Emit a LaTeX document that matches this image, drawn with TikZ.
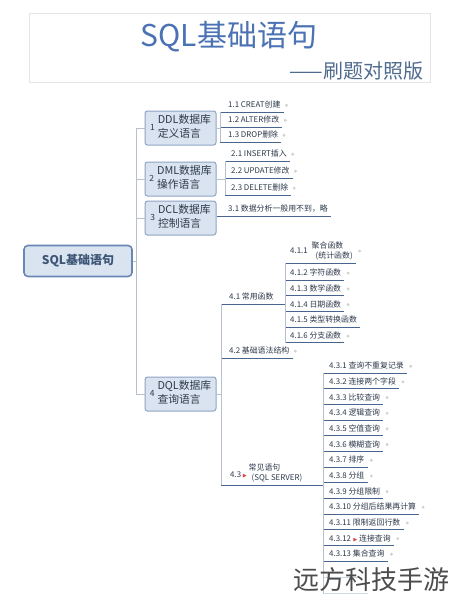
\documentclass[tikz,border=0pt]{standalone}
\usepackage{amssymb}
\usepackage{fontspec}
\setmainfont{Noto Sans CJK SC}
\usetikzlibrary{positioning}

\definecolor{titleblue}{HTML}{4A72B4}
\definecolor{subblue}{HTML}{4F6B8F}
\definecolor{roottxt}{HTML}{3D5576}
\definecolor{boxfill}{HTML}{DAE4F1}
\definecolor{boxline}{HTML}{8EA4C3}
\definecolor{rootline}{HTML}{6987B3}
\definecolor{txt}{HTML}{2E3A4B}
\definecolor{uline}{HTML}{47658F}
\definecolor{branch}{HTML}{B7C1CE}
\definecolor{flagred}{HTML}{E0403A}

\newcommand\tnum[1]{{\fontsize{8.5}{8.5}\selectfont#1}\hspace{3pt}}
\newcommand\flag{\textcolor{flagred}{\scalebox{0.7}{$\blacktriangleright$}}}

\tikzset{
  topic/.style={draw=boxline,fill=boxfill,rounded corners=2.5pt,line width=1pt,
    minimum width=71pt,minimum height=34pt,inner sep=2pt,text=txt,
    font=\fontsize{10.8}{13.5}\selectfont},
  leaf/.style={anchor=south west,inner xsep=0pt,inner ysep=2.5pt,text depth=1.5pt,
    text=txt,font=\fontsize{7.9}{10}\selectfont},
  br/.style={draw=branch,line width=0.9pt},
  ul/.style={draw=uline,line width=0.9pt},
  plusdot/.style={circle,fill=gray!35,inner sep=0pt,minimum size=3.2pt}
}

\begin{document}
\begin{tikzpicture}[x=1pt,y=-1pt]
\useasboundingbox[fill=white] (0,0) rectangle (450,600);

\draw[gray!20,line width=0.8pt] (29,13) rectangle (430,82);
\node[font=\fontsize{30}{30}\selectfont,text=titleblue] (title) at (229,37) {SQL基础语句};
\node[font=\fontsize{20}{20}\selectfont,text=subblue,anchor=east] (subtitle) at (427,71) {——刷题对照版};

\node[topic,draw=rootline,line width=1.6pt,rounded corners=4pt,minimum width=108pt,
  minimum height=31pt,text=roottxt,font=\bfseries\fontsize{12}{12}\selectfont] (root) at (78,261) {SQL基础语句};

\node[topic] (ddl) at (180.5,128) {\tnum{1}\begin{tabular}{@{}l@{}}DDL数据库\\定义语言\end{tabular}};
\node[topic] (dml) at (180.5,179) {\tnum{2}\begin{tabular}{@{}l@{}}DML数据库\\操作语言\end{tabular}};
\node[topic] (dcl) at (180.5,218) {\tnum{3}\begin{tabular}{@{}l@{}}DCL数据库\\控制语言\end{tabular}};
\node[topic] (dql) at (180.5,394) {\tnum{4}\begin{tabular}{@{}l@{}}DQL数据库\\查询语言\end{tabular}};

\coordinate (sp) at (136,261);
\draw[br] (root.east) -- (sp);
\draw[br] (ddl.west) -- (ddl.west -| sp) -- (dql.west -| sp) -- (dql.west);
\draw[br] (dml.west) -- (dml.west -| sp);
\draw[br] (dcl.west) -- (dcl.west -| sp);

\coordinate (b1) at (220,0);
\foreach \i/\y/\t in {1/112/1.1 CREAT创建,2/127/1.2 ALTER修改,3/142/1.3 DROP删除}{
  \node[leaf] (a\i) at (228,\y) {\t};
  \node[plusdot,right=4pt of a\i] (pa\i) {};
  \draw[ul] (b1 |- a\i.south) -- ([xshift=3pt]a\i.south east);
}
\draw[br] (b1 |- a1.south) -- (b1 |- a3.south);
\draw[br] (ddl.east) -- (ddl.east -| b1);

\coordinate (b2) at (225,0);
\foreach \i/\y/\t in {1/161/2.1 INSERT插入,2/178/2.2 UPDATE修改,3/195/2.3 DELETE删除}{
  \node[leaf] (m\i) at (231,\y) {\t};
  \node[plusdot,right=4pt of m\i] (pm\i) {};
  \draw[ul] (b2 |- m\i.south) -- ([xshift=3pt]m\i.south east);
}
\draw[br] (b2 |- m1.south) -- (b2 |- m3.south);
\draw[br] (dml.east) -- (dml.east -| b2);

\node[leaf] (d1) at (228,216) {3.1 数据分析一般用不到，略};
\draw[ul] (dcl.east |- d1.south) -- ([xshift=3pt]d1.south east);

\coordinate (b4) at (221,0);
\coordinate (b41) at (285,0);
\coordinate (b43) at (323,0);
\node[leaf] (q1) at (229,304) {4.1 常用函数};
\node[leaf] (q2) at (229,358) {4.2 基础语法结构};
\node[leaf] (q3) at (230,485) {\raisebox{3.5pt}{4.3\,\flag}\,\begin{tabular}[b]{@{}l@{}}常见语句\\\hspace{3pt}(SQL SERVER)\end{tabular}};
\node[plusdot,right=4pt of q2] (pq2) {};
\draw[ul] (b4 |- q1.south) -- (b41 |- q1.south);
\draw[ul] (b4 |- q2.south) -- ([xshift=3pt]q2.south east);
\draw[ul] (b4 |- q3.south) -- (b43 |- q3.south);
\draw[br] (b4 |- q1.south) -- (b4 |- q3.south);
\draw[br] (dql.east) -- (dql.east -| b4);

\node[leaf] (f1) at (290,263) {\raisebox{5pt}{4.1.1}\hspace{4pt}\begin{tabular}[b]{@{}l@{}}聚合函数\\\hspace{4pt}(统计函数)\end{tabular}};
\foreach \i/\t in {2/4.1.2 字符函数,3/4.1.3 数学函数,4/4.1.4 日期函数,5/4.1.5 类型转换函数,6/4.1.6 分支函数}{
  \node[leaf] (f\i) at (290,{280+15.7*(\i-2)}) {\t};
}
\foreach \i in {1,...,6}{
  \draw[ul] (b41 |- f\i.south) -- ([xshift=3pt]f\i.south east);
}
\foreach \i in {1,2,3,4,6}{
  \node[plusdot,right=5pt of f\i] (pf\i) {};
}
\draw[br] (b41 |- f1.south) -- (b41 |- f6.south);

\foreach \i/\t in {1/4.3.1 查询不重复记录,2/4.3.2 连接两个字段,3/4.3.3 比较查询,4/4.3.4 逻辑查询,
  5/4.3.5 空值查询,6/4.3.6 模糊查询,7/4.3.7 排序,8/4.3.8 分组,9/4.3.9 分组限制,
  10/4.3.10 分组后结果再计算,11/4.3.11 限制返回行数,12/4.3.12 \flag\,连接查询,13/4.3.13 集合查询}{
  \node[leaf] (c\i) at (329,{373+15.67*(\i-1)}) {\t};
  \node[plusdot,right=5pt of c\i] (pc\i) {};
  \draw[ul] (b43 |- c\i.south) -- ([xshift=3pt]c\i.south east);
}
\coordinate (c14) at (362,577);
\coordinate (c15) at (368,593);
\draw[ul,opacity=0.25] (b43 |- c14) -- (c14);
\draw[ul,opacity=0.25] (b43 |- c15) -- (c15);
\draw[br] (b43 |- c1.south) -- (b43 |- c15);

\node[font=\fontsize{26}{26}\selectfont,text=black!70] (wm) at (371,580) {远方科技手游};
\end{tikzpicture}
\end{document}
